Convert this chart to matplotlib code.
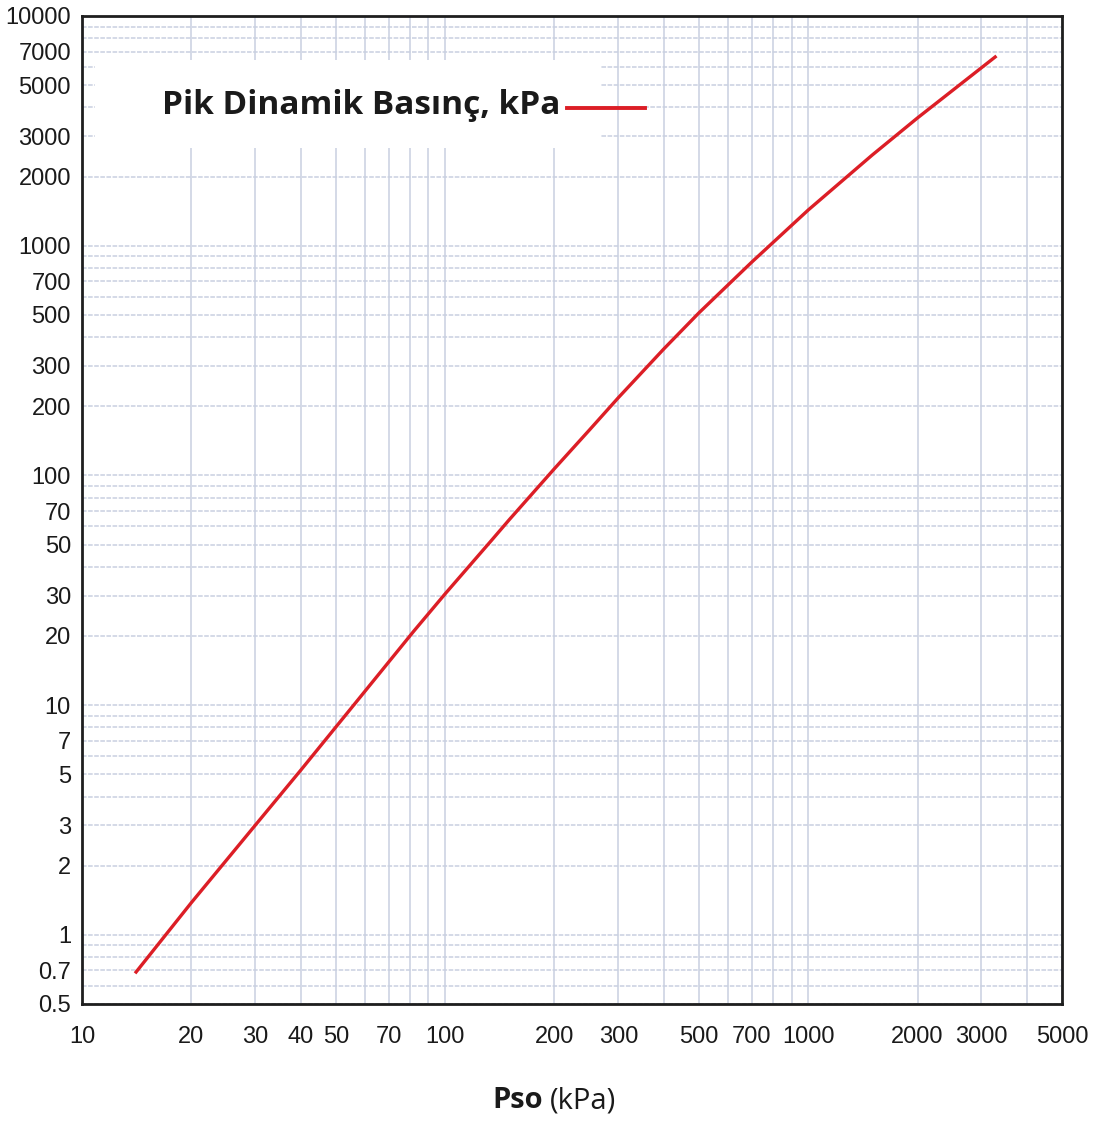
import numpy as np
import matplotlib
matplotlib.use("Agg")
import matplotlib.pyplot as plt
from matplotlib.ticker import FixedLocator, LogLocator, NullFormatter
from matplotlib.patches import Rectangle
from matplotlib.lines import Line2D

# Peak dynamic pressure vs. side-on overpressure (kPa)
pso = [14, 20, 30, 40, 56, 82, 100, 134, 150, 200, 250, 300, 400, 500, 700,
       1000, 1500, 2000, 3300]
q_peak = [0.68, 1.38, 3.0, 5.2, 10.0, 21, 30.5, 52, 64, 107, 158, 218, 355, 510, 850,
          1430, 2480, 3600, 6700]

x_ticks = [10, 20, 30, 40, 50, 70, 100, 200, 300, 500, 700, 1000, 2000, 3000, 5000]
y_ticks = [0.5, 0.7, 1, 2, 3, 5, 7, 10, 20, 30, 50, 70, 100, 200, 300, 500, 700,
           1000, 2000, 3000, 5000, 7000, 10000]

series_label = "Pik Dinamik Basınç, kPa"

GRID = "#c9d0e0"
RED = "#dc1e26"

W, H = 1096, 1126
fig = plt.figure(figsize=(W / 100, H / 100), dpi=100)
fig.patch.set_facecolor("white")
ax = fig.add_axes([82 / W, 1 - 1004 / H, 980 / W, 988 / H])

ax.set_xscale("log")
ax.set_yscale("log")
ax.set_xlim(10, 5000)
ax.set_ylim(0.5, 10000)

# labelled ticks
ax.xaxis.set_major_locator(FixedLocator(x_ticks))
ax.yaxis.set_major_locator(FixedLocator(y_ticks))
ax.set_xticklabels([str(v) for v in x_ticks])
ax.set_yticklabels([("%g" % v) for v in y_ticks])

# full 1..9 log grid, kept even where it sits on a labelled tick
for axis in (ax.xaxis, ax.yaxis):
    axis.set_minor_locator(LogLocator(base=10, subs=np.arange(1, 10), numticks=50))
    axis.set_minor_formatter(NullFormatter())
    axis.remove_overlapping_locs = False

ax.tick_params(which="both", length=0)
ax.tick_params(axis="y", pad=8, labelsize=17)
ax.tick_params(axis="x", pad=16, labelsize=17)
for lab in ax.get_xticklabels() + ax.get_yticklabels():
    lab.set_fontfamily("Liberation Sans")
    lab.set_color("#1a1a1a")

ax.set_axisbelow(True)
ax.xaxis.grid(True, which="minor", color=GRID, lw=1.1, ls="-")
ax.yaxis.grid(True, which="minor", color=GRID, lw=1.1, ls=(0, (3, 1)))
ax.grid(False, which="major")

for s in ax.spines.values():
    s.set_linewidth(2.0)
    s.set_color("#1e1e1e")

ax.plot(pso, q_peak, color=RED, lw=2.4, zorder=3, solid_capstyle="butt",
        solid_joinstyle="round")

# key: white panel, label text, short red line
ax.add_patch(Rectangle((0.013, 0.866), 0.516, 0.089, transform=ax.transAxes,
                       facecolor="white", edgecolor="none", zorder=1))
ax.text(0.0816, 0.909, series_label, transform=ax.transAxes, ha="left", va="center",
        fontsize=24, fontweight="bold", family="Open Sans", color="#1a1a1a", zorder=4)
ax.add_line(Line2D([0.495, 0.574], [0.907, 0.907], transform=ax.transAxes,
                   color=RED, lw=2.8, zorder=4))

# x axis title: bold symbol, regular unit
fig.text(543 / W, 1 - 1101 / H, "Pso", ha="right", va="center", fontsize=21,
         fontweight="bold", family="Open Sans", color="#1a1a1a")
fig.text(550 / W, 1 - 1101 / H, "(kPa)", ha="left", va="center", fontsize=21,
         family="Open Sans", color="#1a1a1a")

fig.savefig("out.png", dpi=100, facecolor="white")
